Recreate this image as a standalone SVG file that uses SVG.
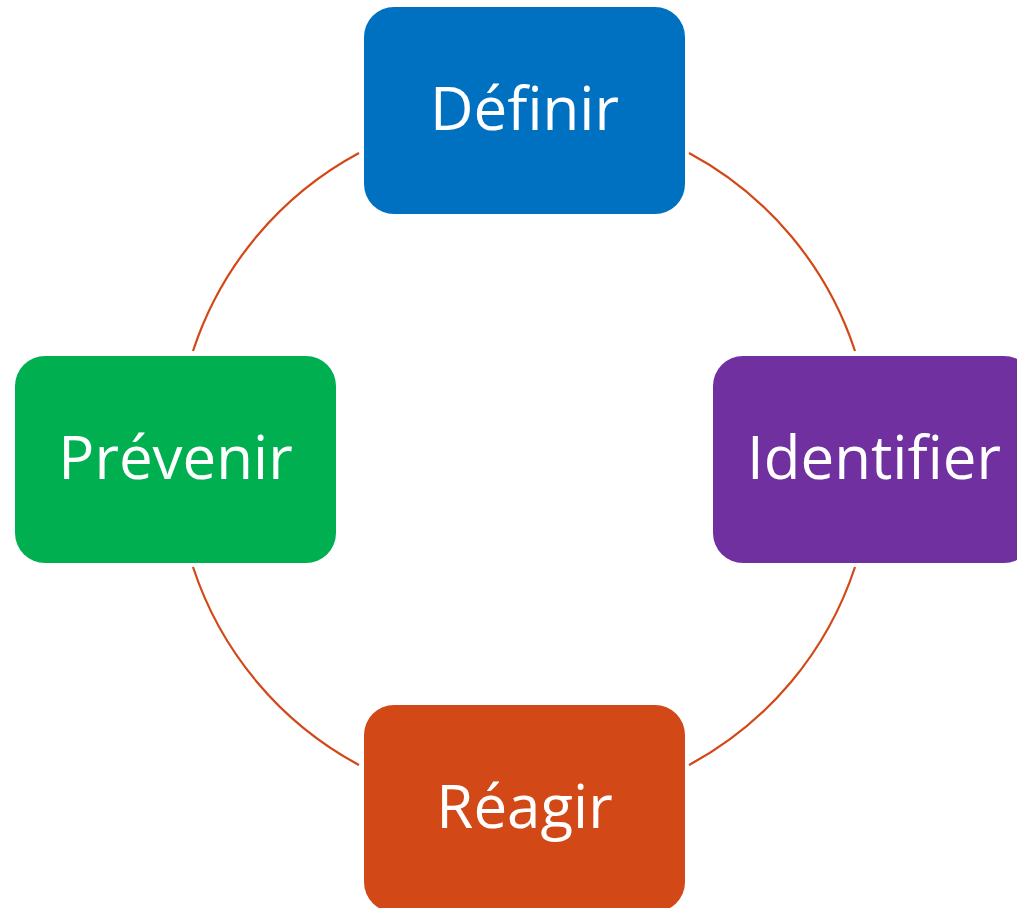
<svg xmlns="http://www.w3.org/2000/svg" width="1017" height="908" viewBox="0 0 1017 908">
<style>
.lbl{font-family:"Open Sans","Noto Sans",sans-serif;font-size:60px;fill:#ffffff;text-anchor:middle}
.arc{fill:none;stroke:#D24817;stroke-width:2.2}
</style>
<rect width="1017" height="908" fill="#ffffff"/>
<g id="connectors">
<path class="arc" d="M 359 153 A 348 348 0 0 0 193 351"/>
<path class="arc" d="M 193 567 A 348 348 0 0 0 359 765"/>
<path class="arc" d="M 689 765 A 348 348 0 0 0 855 567"/>
<path class="arc" d="M 855 351 A 348 348 0 0 0 689 153"/>
</g>
<g id="definir">
<rect x="364" y="7" width="321" height="207" rx="30" fill="#0070C0"/>
<text class="lbl" x="524.5" y="130">Définir</text>
</g>
<g id="identifier">
<rect x="713" y="356" width="321" height="207" rx="30" fill="#7030A0"/>
<text class="lbl" x="874" y="479">Identifier</text>
</g>
<g id="reagir">
<rect x="364" y="705" width="321" height="207" rx="30" fill="#D24817"/>
<text class="lbl" x="524.5" y="828">Réagir</text>
</g>
<g id="prevenir">
<rect x="15" y="356" width="321" height="207" rx="30" fill="#00B050"/>
<text class="lbl" x="175.5" y="479">Prévenir</text>
</g>
</svg>
